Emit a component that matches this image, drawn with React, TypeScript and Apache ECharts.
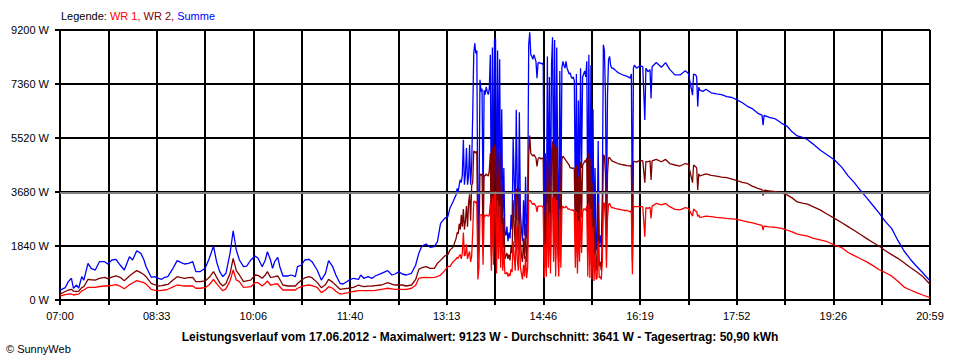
import React, { useEffect, useRef } from "react";
import * as echarts from "echarts";

// Sample times (HH:MM)
const times: string[] = [
  "07:00","07:05","07:08","07:11","07:13","07:16","07:18","07:21","07:23","07:27","07:30","07:34","07:38","07:43","07:46","07:50","07:54","07:58",
  "08:02","08:07","08:10","08:14","08:18","08:21","08:23","08:28","08:31","08:35","08:38","08:41","08:44","08:49","08:53","08:57",
  "09:00","09:04","09:08","09:11","09:15","09:20","09:24","09:28","09:31","09:34","09:37","09:40","09:44","09:47","09:50","09:53","09:57",
  "10:00","10:04","10:08","10:11","10:15","10:18","10:20","10:23","10:25","10:27","10:30","10:32","10:35","10:40","10:43","10:47","10:49","10:53","10:56",
  "11:00","11:03","11:08","11:12","11:16","11:19","11:23","11:26","11:30","11:33","11:38","11:43","11:48","11:50","11:53","11:57",
  "12:01","12:04","12:10","12:16","12:20","12:23","12:27","12:30","12:34","12:39","12:43","12:46","12:49","12:53","12:57",
  "13:01","13:04","13:07","13:11","13:14","13:16","13:19","13:22",
  "13:23","13:24","13:25","13:26","13:27","13:28","13:29","13:30","13:31","13:32","13:33","13:34","13:35","13:36","13:37","13:38","13:39",
  "13:40","13:41","13:42","13:43","13:44","13:45","13:46","13:47","13:48","13:49","13:50","13:51","13:52","13:53","13:54","13:55","13:56","13:57","13:58","13:59",
  "14:00","14:01","14:02","14:03","14:04","14:05","14:06","14:07","14:08","14:09","14:10","14:11","14:12","14:13","14:14","14:15","14:16","14:17","14:18","14:19",
  "14:20","14:21","14:22","14:23","14:24","14:25","14:26","14:27","14:28","14:29","14:30","14:31","14:32","14:33","14:34","14:35","14:36","14:37","14:38","14:39",
  "14:40","14:41","14:42","14:43","14:44","14:45","14:46","14:47","14:48","14:49","14:50","14:51","14:52","14:53","14:54","14:55","14:56","14:57","14:58","14:59",
  "15:00","15:01","15:02","15:03","15:04","15:05","15:06","15:07","15:08","15:09","15:10","15:11","15:12","15:13","15:14","15:15","15:16","15:17","15:18","15:19",
  "15:20","15:21","15:22","15:23","15:24","15:25","15:26","15:27","15:28","15:29","15:30","15:31","15:32","15:33","15:34","15:35","15:36","15:37","15:38","15:39",
  "15:40","15:41","15:42","15:43","15:44","15:45","15:46","15:47","15:48","15:49","15:50","15:51","15:52","15:53",
  "15:55","15:58","16:01","16:04","16:07","16:10","16:11","16:12","16:13","16:14","16:16","16:18","16:20","16:22","16:24","16:25","16:27","16:29","16:30","16:31","16:35","16:40","16:44","16:48","16:53","16:58",
  "17:03","17:06","17:10","17:11","17:13","17:14","17:15","17:16","17:17","17:20","17:23","17:28","17:33","17:38","17:43","17:48","17:53","17:58",
  "18:03","18:08","18:13","18:17","18:18","18:19","18:24","18:30","18:36","18:41","18:46","18:51","18:56",
  "19:01","19:06","19:13","19:20","19:27","19:34","19:40","19:46","19:52","19:58",
  "20:04","20:10","20:16","20:22","20:28","20:34","20:40","20:46","20:52","20:59"
];

// Summe (blue), W
const summe: number[] = [
  330,420,625,740,400,510,400,795,680,1250,1080,1020,1305,1305,1227,1363,1385,1192,
  1022,1475,1363,1680,1590,1363,1135,773,795,740,705,773,795,1080,1340,1272,
  1227,1250,1305,965,965,1080,1420,1840,1305,965,795,910,1590,2360,1704,1363,1135,
  1158,1363,1500,1420,1135,1363,1646,1363,1080,1305,1455,1135,818,818,852,795,1135,1192,1363,
  1385,1305,1022,680,910,1340,1135,852,568,545,658,740,705,852,740,795,
  740,818,910,1000,852,886,965,886,852,910,1192,1590,1840,1908,1795,
  1817,1986,2613,2783,2840,3124,3350,3590,
  3800,3700,3930,4100,4000,4270,5460,3930,4300,5180,3930,4200,5290,3930,4600,6300,8400,
  8745,8400,8500,2010,3000,7506,7100,7200,3200,7150,7000,7260,7100,7000,7200,8360,2500,8600,3200,8870,
  8900,2400,8500,4000,8200,3000,6500,2500,4500,2300,2200,2500,2000,2300,2100,2900,2400,5520,4156,2800,
  6480,3900,2700,6400,3000,2400,2000,3400,2200,4200,2100,3000,8700,9123,8360,8300,8200,8360,8250,8130,
  7560,8070,8100,8070,8050,8070,8000,2000,5000,2100,8300,3000,7600,2400,8000,8950,3500,8860,2200,8600,
  4500,2000,7800,3000,7900,8130,8000,7900,8130,7900,7800,7700,7740,7600,7550,7600,7470,3130,7700,2500,
  6800,3500,7900,4500,7600,7700,7800,7600,8130,2500,8360,2000,8000,1900,6500,1800,4500,1700,2000,5420,
  1900,2200,1800,3600,8700,8500,7000,3000,7000,8200,8300,8000,7900,7900,
  7850,7750,7700,7650,7620,7560,7700,2250,7900,8000,7900,7950,7970,7950,6130,7900,7780,7850,6870,7950,8090,7930,8090,7860,7670,7670,
  7810,7720,6980,7700,7670,7600,6590,7250,7150,7110,7180,7060,7020,7000,6930,6900,6820,6720,
  6600,6510,6360,6300,5960,6290,6225,6170,6020,5930,5730,5590,5540,
  5460,5320,5110,4940,4770,4520,4230,4000,3730,3480,
  3220,2960,2670,2440,2030,1670,1390,1150,930,650
];

// WR 2 (dark red), W
const wr2: number[] = [
  200,290,340,365,300,290,300,420,453,705,690,680,740,773,726,780,818,773,
  658,818,900,1000,930,860,795,568,520,477,490,511,530,680,795,760,
  740,760,773,624,624,650,773,965,780,590,477,560,900,1420,1000,852,624,
  650,680,852,840,740,852,965,773,780,795,818,700,511,477,477,477,560,680,750,
  795,760,600,420,520,705,600,500,365,380,400,432,511,480,453,470,
  477,490,511,590,540,511,511,511,477,511,700,1045,1100,1135,1080,
  1080,1250,1350,1500,1545,1700,1800,2100,
  2300,2250,2600,2400,2900,2500,3100,2400,2700,3200,2500,3300,3600,2700,3900,4000,5065,
  5065,5000,5065,1400,2000,4300,4250,4300,2000,4250,4225,4300,4250,4225,4400,5000,1500,5200,2000,5300,
  5200,1400,5100,2600,5000,1800,3900,1500,2800,1400,1500,1600,1400,1550,1350,1800,1600,3400,2600,1800,
  3800,2400,1700,3800,2000,1500,1300,2100,1400,2600,1300,1900,4950,5600,5000,4950,4900,4950,4900,4840,
  4550,4800,4850,4840,4800,4840,4800,1300,3000,1350,4900,1800,4700,1500,5000,5400,2200,5300,1400,5200,
  2800,1300,4700,1900,4800,4900,4850,4800,4750,4700,4650,4600,4500,4500,4480,4500,4450,2000,4600,1600,
  4200,2100,4700,2800,4600,4650,4750,4700,4840,1600,5000,1200,4800,1100,4000,1100,2800,1000,1200,3300,
  1150,1300,1000,2200,4950,4900,4300,1800,4300,4850,4850,4800,4750,4720,
  4700,4650,4620,4600,4580,4565,4600,1320,4700,4725,4700,4740,4750,4740,4000,4720,4710,4740,4090,4740,4790,4710,4790,4650,4600,4565,
  4650,4620,4000,4600,4540,4500,3750,4300,4225,4260,4300,4250,4220,4190,4170,4120,4065,4010,
  3970,3870,3800,3760,3560,3740,3715,3695,3650,3580,3480,3340,3300,
  3265,3180,3070,2920,2780,2630,2500,2370,2230,2090,
  1960,1830,1680,1545,1420,1270,1110,965,800,535
];

// WR 1 (red), W
const wr1: number[] = [
  130,180,200,204,170,190,200,310,341,432,432,432,460,477,477,500,522,470,
  385,522,580,658,620,590,540,365,340,317,330,340,365,450,511,490,
  477,477,477,400,400,420,520,705,560,432,317,380,650,1022,680,624,432,
  440,453,590,590,477,568,647,511,520,545,545,450,341,341,341,341,400,453,490,
  511,490,432,250,341,453,400,300,204,220,250,290,317,317,317,317,
  317,330,365,400,380,365,365,365,365,400,500,740,760,773,760,
  770,800,850,1000,1147,1135,1300,1400,
  1450,1420,1500,1550,1400,1600,2300,1500,1550,1900,1400,1550,1650,1300,1500,2300,3360,
  3360,3300,3360,700,1100,2900,2900,2900,1200,2900,2850,2900,2880,2850,2900,3300,1000,3500,1200,3600,
  3700,900,3400,1400,3200,1100,2600,1000,1700,900,900,950,800,900,820,1050,950,2000,1500,1000,
  2500,1400,1000,2600,1100,900,700,1200,800,1500,750,1100,3370,3400,3370,3300,3250,3300,3250,3200,
  3000,3200,3200,3200,3200,3200,3150,750,1900,800,3300,1100,3000,900,3100,3500,1300,3500,800,3400,
  1600,800,3100,1100,3100,3200,3150,3150,3200,3150,3100,3100,3080,3070,3050,3070,3000,1100,3000,900,
  2700,1300,3100,1600,3000,3100,3100,3050,3200,800,3300,750,3100,700,2500,650,1600,700,750,2000,
  750,800,700,1300,3300,3300,2700,1100,2800,3250,3300,3200,3150,3150,
  3120,3100,3080,3050,3050,3000,3050,880,3150,3190,3180,3180,3180,3180,2155,3150,3120,3160,2780,3200,3290,3240,3290,3180,3090,3070,
  3150,3120,2860,3100,3030,3010,2850,2900,2815,2830,2855,2840,2815,2800,2780,2765,2745,2705,
  2665,2625,2580,2540,2380,2520,2495,2478,2440,2385,2320,2245,2210,
  2175,2110,2050,1985,1870,1780,1620,1510,1405,1300,
  1170,1030,930,820,640,440,340,250,170,80
];

const xTickLabels = ["07:00", "08:33", "10:06", "11:40", "13:13", "14:46", "16:19", "17:52", "19:26", "20:59"];
const dayStart = "07:00";
const dayEnd = "20:59";
const averageW = 3641;
const maximumW = 9123;
const dailyYield = "50,90";
const dateText = "17.06.2012";
const yMax = 9200;
const yStep = 1840;

const toMin = (t: string) => {
  const [h, m] = t.split(":").map(Number);
  return h * 60 + m;
};
const startMin = toMin(dayStart);
const span = toMin(dayEnd) - startMin;
const xStep = span / 18;

const FONT = "'Liberation Sans', Arial, sans-serif";

export default function App() {
  const ref = useRef<HTMLDivElement>(null);
  useEffect(() => {
    if (!ref.current) return;
    const chart = echarts.init(ref.current, undefined, { renderer: "svg" });
    const pairs = (arr: number[]) => times.map((t, i) => [toMin(t) - startMin, arr[i]]);
    const lineSeries = (name: string, arr: number[], color: string, z: number) => ({
      name,
      type: "line",
      data: pairs(arr),
      showSymbol: false,
      symbol: "none",
      z,
      lineStyle: { color, width: 1.3 },
      emphasis: { disabled: true },
    });
    chart.setOption({
      animation: false,
      backgroundColor: "#ffffff",
      textStyle: { fontFamily: FONT },
      grid: { left: 60, right: 30, top: 30, bottom: 60, containLabel: false },
      xAxis: {
        type: "value",
        min: 0,
        max: span,
        interval: xStep,
        axisLine: { show: true, lineStyle: { color: "#000", width: 2 } },
        axisTick: { show: true, length: 5, lineStyle: { color: "#000", width: 2 } },
        axisLabel: {
          color: "#000",
          fontSize: 11,
          fontFamily: FONT,
          margin: 10,
          showMaxLabel: true,
          showMinLabel: true,
          formatter: (v: number) => {
            const i = Math.round(v / xStep);
            return i % 2 === 0 ? xTickLabels[i / 2] ?? "" : "";
          },
        },
        splitLine: { show: true, lineStyle: { color: "#000", width: 2 } },
      },
      yAxis: {
        type: "value",
        min: 0,
        max: yMax,
        interval: yStep,
        axisLine: { show: true, lineStyle: { color: "#000", width: 2 } },
        axisTick: { show: true, length: 5, lineStyle: { color: "#000", width: 2 } },
        axisLabel: {
          color: "#000",
          fontSize: 11,
          fontFamily: FONT,
          margin: 11,
          formatter: (v: number) => `${v} W`,
        },
        splitLine: { show: true, lineStyle: { color: "#000", width: 2 } },
      },
      series: [
        lineSeries("Summe", summe, "#0000ff", 2),
        lineSeries("WR 2", wr2, "#800000", 3),
        lineSeries("WR 1", wr1, "#ff0000", 4),
        {
          name: "Durchschnitt",
          type: "line",
          data: [],
          z: 6,
          markLine: {
            silent: true,
            symbol: ["none", "none"],
            label: { show: false },
            lineStyle: { color: "#808080", width: 2, type: "solid" },
            data: [{ yAxis: averageW }],
          },
        },
      ],
      graphic: [
        {
          type: "text",
          left: 61,
          top: 10,
          style: {
            text: "{a|Legende: }{b|WR 1, }{c|WR 2, }{d|Summe}",
            font: `11px ${FONT}`,
            rich: {
              a: { fill: "#000", fontSize: 11, fontFamily: FONT },
              b: { fill: "#ff0000", fontSize: 11, fontFamily: FONT },
              c: { fill: "#800000", fontSize: 11, fontFamily: FONT },
              d: { fill: "#0000ff", fontSize: 11, fontFamily: FONT },
            },
          },
        },
        {
          type: "text",
          x: 480,
          y: 337,
          style: {
            text: `Leistungsverlauf vom ${dateText} - Maximalwert: ${maximumW} W - Durchschnitt: ${averageW} W - Tagesertrag: ${dailyYield} kWh`,
            fill: "#000",
            font: `bold 12px ${FONT}`,
            align: "center",
            verticalAlign: "middle",
          },
        },
        {
          type: "text",
          x: 6,
          y: 349,
          style: {
            text: "© SunnyWeb",
            fill: "#000",
            font: `11px ${FONT}`,
            align: "left",
            verticalAlign: "middle",
          },
        },
      ],
    });
    return () => chart.dispose();
  }, []);
  return <div ref={ref} style={{ width: 960, height: 360, position: "absolute", left: 0, top: 0 }} />;
}
